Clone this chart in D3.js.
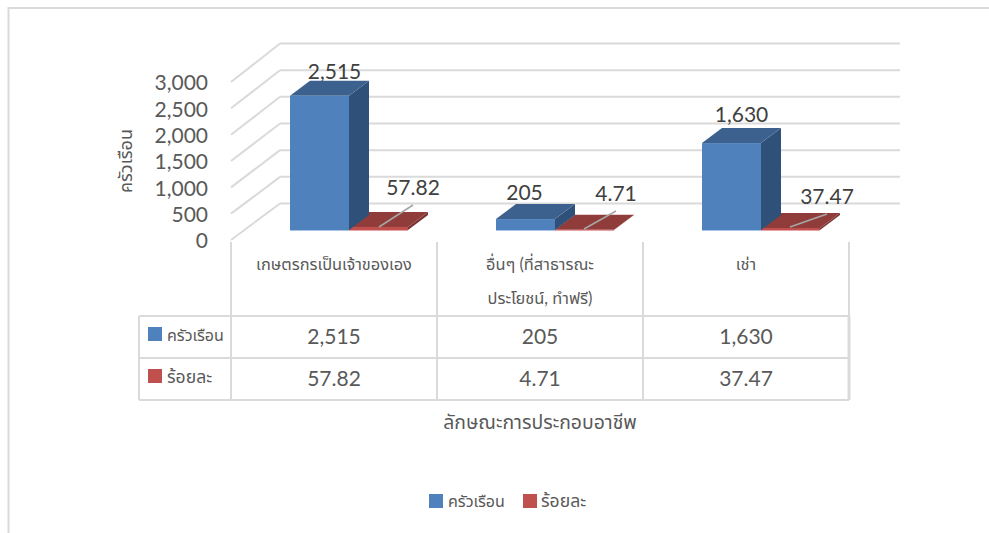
<!DOCTYPE html>
<html><head><meta charset="utf-8">
<style>html,body{margin:0;padding:0;background:#fff}svg{display:block}
text{font-family:Lato,"Noto Sans","Noto Sans Thai",sans-serif}</style>
<script src="https://cdn.jsdelivr.net/npm/d3@7"></script></head>
<body><script>
const categories=[["เกษตรกรเป็นเจ้าของเอง"],["อื่นๆ (ที่สาธารณะ","ประโยชน์, ทำฟรี)"],["เช่า"]];
const seriesNames=["ครัวเรือน","ร้อยละ"];
const households=[2515,205,1630];
const percents=[57.82,4.71,37.47];
const householdLabels=["2,515","205","1,630"];
const percentLabels=["57.82","4.71","37.47"];
const yTicks=[0,500,1000,1500,2000,2500,3000];
const seriesColors=["#4f81bd","#c0504d"];
const topColors=["#3c618e","#903c3a"];
const sideColors=["#2f5078","#7a3331"];
const edgeColors=["#a9c4e6","#e8a5a3"];
const leaders=[[379,227,413,205],[584,229,616,211],[790,227,827,214]];
const labelShiftX=[0,-16,-5];
const labelShiftY=[-2,-4,-6];

const W=989,H=533,dx=20,dy=-15;
const svg=d3.select("body").append("svg").attr("width",W).attr("height",H);
const grey="#dadada",txt="#595959",dark="#404040";
const line=(x1,y1,x2,y2,c=grey,w=2)=>svg.append("line").attr("x1",x1).attr("y1",y1).attr("x2",x2).attr("y2",y2).attr("stroke",c).attr("stroke-width",w);

// frame
svg.append("path").attr("d","M8.5,533V8H989").attr("fill","none").attr("stroke",grey).attr("stroke-width",2);

const yFront=d3.scaleLinear().domain([0,3000]).range([240,82]);
const yBack=d3.scaleLinear().domain([0,3000]).range([203.5,43.5]);
const yBar=d3.scaleLinear().domain([0,3000]).range([230,70]);
const xCat=d3.scaleBand().domain(d3.range(3)).range([231,849]);
const xSeries=d3.scaleBand().domain([0,1]).range([59,177]);

// grid + diagonals
yTicks.forEach(t=>{
  line(280,yBack(t),900,yBack(t));
  line(231,yFront(t),280,yBack(t));
});
// axis labels
const axis=d3.axisLeft(yFront).tickValues(yTicks).tickSize(0).tickPadding(0).tickFormat(d3.format(","));
const ag=svg.append("g").attr("transform","translate(208,1)").call(axis);
ag.select(".domain").remove();
ag.selectAll("text").attr("fill",txt).style("font-size","21px");

// table lines
[231,437,643].forEach(x=>line(x,242,x,400));
line(849,242,849,316);line(849,316,849,400,grey,3);
line(139,316,849,316);line(139,358,849,358);line(139,400,849,400);line(139,316,139,400);

function bar(x,w,y0,y1,i){
  const g=svg.append("g");
  g.append("path").attr("d",`M${x+w},${y0}L${x+w+dx},${y0+dy}L${x+w+dx},${y1+dy}L${x+w},${y1}Z`).attr("fill",sideColors[i]);
  g.append("path").attr("d",`M${x},${y1}L${x+dx},${y1+dy}L${x+w+dx},${y1+dy}L${x+w},${y1}Z`).attr("fill",topColors[i]);
  g.append("rect").attr("x",x).attr("y",y1).attr("width",w).attr("height",y0-y1).attr("fill",seriesColors[i]);
  g.append("rect").attr("x",x).attr("y",y0).attr("width",w).attr("height",1).attr("fill",edgeColors[i]);
}
categories.forEach((c,i)=>{
  const cx=xCat(i);
  const w=xSeries.bandwidth();
  bar(cx+xSeries(1),w,yBar(0),yBar(percents[i]),1);
  bar(cx+xSeries(0),w,yBar(0),yBar(households[i]),0);
  const [a,b,e,f]=leaders[i];
  line(a,b,e,f,"#a6a6a6",1.6);
  // bar labels
  svg.append("text").attr("x",cx+xSeries(0)+w/2+dx-5+labelShiftX[i]).attr("y",yBar(households[i])+dy+labelShiftY[i])
    .attr("text-anchor","middle").attr("fill",dark).style("font-size","21px").text(householdLabels[i]);
  svg.append("text").attr("x",e).attr("y",f-10.5)
    .attr("text-anchor","middle").attr("fill",dark).style("font-size","21px").text(percentLabels[i]);
  // category labels
  c.forEach((s,j)=>svg.append("text").attr("x",cx+103).attr("y",270+j*34).attr("text-anchor","middle")
    .attr("fill",txt).style("font-size","16.4px").text(s));
  svg.append("text").attr("x",cx+103).attr("y",343.5).attr("text-anchor","middle").attr("fill",txt).style("font-size","21px").text(householdLabels[i]);
  svg.append("text").attr("x",cx+103).attr("y",385.5).attr("text-anchor","middle").attr("fill",txt).style("font-size","21px").text(percentLabels[i]);
});
// table legend
const nameSizes=["16px","17.6px"];
seriesNames.forEach((n,i)=>{
  const y=[327,369][i];
  svg.append("rect").attr("x",148).attr("y",y).attr("width",14).attr("height",14).attr("fill",seriesColors[i]);
  svg.append("text").attr("x",167).attr("y",y+14).attr("fill",txt).style("font-size",nameSizes[i]).text(n);
});
// bottom legend
const lx=[429,523],ltx=[448,541];
seriesNames.forEach((n,i)=>{
  svg.append("rect").attr("x",lx[i]).attr("y",494).attr("width",14).attr("height",14).attr("fill",seriesColors[i]);
  svg.append("text").attr("x",ltx[i]).attr("y",507).attr("fill",txt).style("font-size",nameSizes[i]).text(n);
});
// axis titles
svg.append("text").attr("x",540).attr("y",429).attr("text-anchor","middle").attr("fill",txt).style("font-size","19.4px").text("ลักษณะการประกอบอาชีพ");
svg.append("text").attr("transform","translate(132,161) rotate(-90)").attr("text-anchor","middle").attr("fill",txt).style("font-size","18px").text("ครัวเรือน");
</script></body></html>
